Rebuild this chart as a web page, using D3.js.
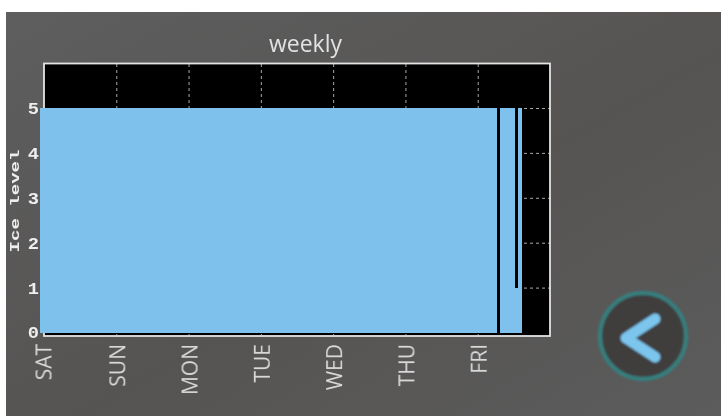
<!DOCTYPE html>
<html><head><meta charset="utf-8">
<script src="https://cdn.jsdelivr.net/npm/d3@7"></script>
<style>html,body{margin:0;padding:0;background:#fff;overflow:hidden}svg{display:block}</style>
</head><body><svg id="c" width="721" height="416"></svg>
<script>
const title = "weekly";
const yLabel = "Ice level";
const days = ["SAT","SUN","MON","TUE","WED","THU","FRI"];
const dayIndex = [0,1,2,3,4,5,6];
const yTicks = [0,1,2,3,4,5];
const segStart = [-0.055,6.27,6.31,6.515,6.557];
const segEnd   = [6.27,6.31,6.515,6.557,6.61];
const segLevel = [5,0,5,1,5];

const svg = d3.select("#c");
const defs = svg.append("defs");
const g = defs.append("linearGradient").attr("id","bg").attr("x1",0).attr("y1",0).attr("x2",1).attr("y2",1);
g.append("stop").attr("offset",0).attr("stop-color","#5e5e5e");
g.append("stop").attr("offset",0.55).attr("stop-color","#565453");
g.append("stop").attr("offset",1).attr("stop-color","#5c5c5c");
defs.append("filter").attr("id","soft").append("feGaussianBlur").attr("stdDeviation",0.6);
defs.append("filter").attr("id","soft2").append("feGaussianBlur").attr("stdDeviation",1);

const x = d3.scaleLinear().domain([0,7]).range([44,550]);
const y = d3.scaleLinear().domain([0,5]).range([332.5,108]);

svg.append("rect").attr("x",6).attr("y",12).attr("width",715).attr("height",404).attr("fill","url(#bg)");
svg.append("rect").attr("x",x(0)).attr("y",63).attr("width",x(7)-x(0)).attr("height",273).attr("fill","#000");

const grid = svg.append("g").attr("stroke","#a8a8a8").attr("stroke-dasharray","3 3").attr("stroke-width",1);
grid.selectAll("line.v").data(dayIndex.slice(1)).join("line").attr("class","v")
  .attr("x1",d=>x(d)+.5).attr("x2",d=>x(d)+.5).attr("y1",64).attr("y2",335);
grid.selectAll("line.h").data(yTicks.slice(1)).join("line").attr("class","h")
  .attr("x1",x(0)).attr("x2",x(7)).attr("y1",d=>y(d)+.5).attr("y2",d=>y(d)+.5);

svg.append("rect").attr("x",x(0)).attr("y",63.5).attr("width",x(7)-x(0)).attr("height",272.5)
  .attr("fill","none").attr("stroke","#e4e4e4").attr("stroke-width",1.8);

svg.append("g").attr("shape-rendering","crispEdges").selectAll("rect").data(segLevel).join("rect")
  .attr("x",(d,i)=>x(segStart[i])).attr("width",(d,i)=>x(segEnd[i])-x(segStart[i]))
  .attr("y",d=>y(d)).attr("height",d=>y(0)-y(d)).attr("fill","#7dc1ec");

const mono = "'Liberation Mono','DejaVu Sans Mono',monospace";
const yAxis = d3.axisLeft(y).tickValues(yTicks).tickFormat(d3.format("d")).tickSize(0).tickPadding(0);
const ya = svg.append("g").attr("transform","translate(39,0)").call(yAxis);
ya.select(".domain").remove();
ya.selectAll("text").attr("fill","#eee").attr("font-family",mono).attr("font-weight","bold").attr("font-size",17)
  .attr("transform","scale(1.1,1)").attr("filter","url(#soft)");

const xAxis = d3.axisBottom(x).tickValues(dayIndex).tickFormat(i=>days[i]).tickSize(0);
const xa = svg.append("g").attr("transform","translate(0,344)").call(xAxis);
xa.select(".domain").remove();
xa.selectAll("g.tick").each(function(d){
  d3.select(this).select("text")
    .attr("fill","#d8d8d8").attr("font-family","'Open Sans',sans-serif").attr("font-size",21)
    .attr("text-anchor","end").attr("dominant-baseline","central")
    .attr("x",0).attr("y",0).attr("dy",0)
    .attr("transform",`translate(${d===0?-1:0.5},0) rotate(-90)`).attr("filter","url(#soft)");
});

svg.append("text").attr("x",305.5).attr("y",52).attr("text-anchor","middle").attr("fill","#e2e2e2")
  .attr("font-family","'Open Sans',sans-serif").attr("font-size",23).attr("filter","url(#soft)").text(title);
svg.append("text").attr("transform","translate(19,201) rotate(-90)").attr("text-anchor","middle")
  .attr("fill","#eee").attr("font-family",mono).attr("font-weight","bold").attr("font-size",13)
  .attr("textLength",103).attr("lengthAdjust","spacingAndGlyphs").attr("filter","url(#soft)").text(yLabel);

const btn = svg.append("g").attr("transform","translate(643,336)").attr("filter","url(#soft2)");
btn.append("circle").attr("r",43).attr("fill","#403c3d").attr("stroke","#35807f").attr("stroke-width",4);
btn.append("path").attr("d",d3.line()([[12,-17],[-17,2],[12,21]])).attr("fill","none")
  .attr("stroke","#7cc6ee").attr("stroke-width",11).attr("stroke-linecap","round").attr("stroke-linejoin","round");
</script></body></html>
